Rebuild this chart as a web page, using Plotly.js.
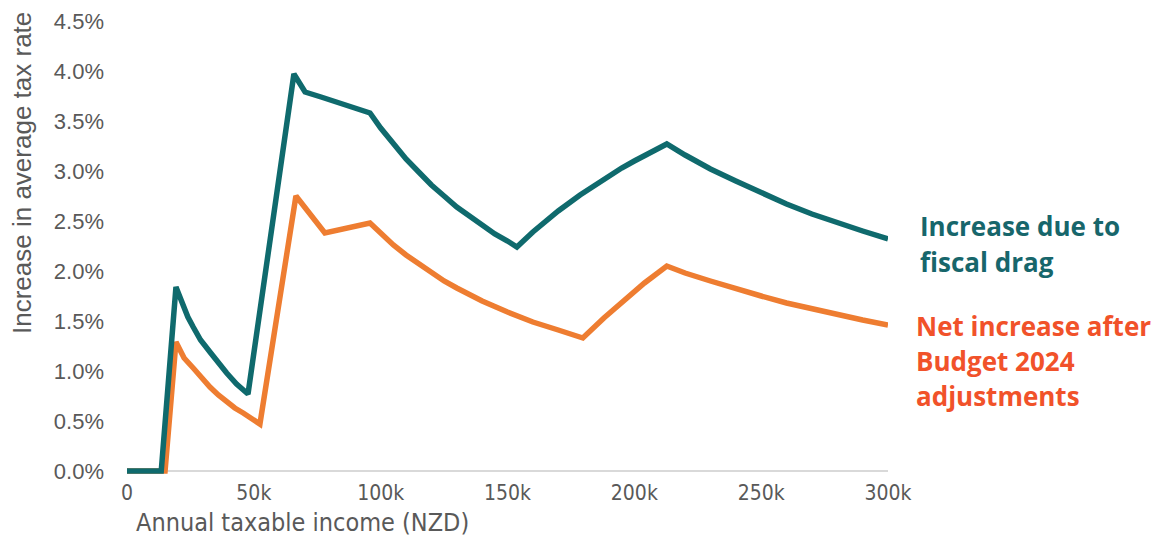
<!DOCTYPE html>
<html>
<head>
<meta charset="utf-8">
<script src="https://cdn.plot.ly/plotly-3.0.1.min.js"></script>
<style>html,body{margin:0;padding:0;background:#fff;}#chart{width:1163px;height:537px;}</style>
</head>
<body>
<div id="chart"></div>
<script>
// Annual taxable income (NZD) and increase in average tax rate (fraction)
const dragIncome = [0, 13500, 19300, 20500, 22000, 24000, 26100, 29000, 32700, 36000, 39300, 43200, 47700,
  65800, 70200, 76500, 83000, 89500, 95800, 100000, 105000, 110000, 115000, 120000, 125000, 130000, 135000, 140000, 145000, 150000, 153700,
  160000, 165000, 170000, 178600, 185000, 190000, 195000, 200000, 206000, 212800,
  220000, 230000, 240000, 250000, 260000, 270000, 280000, 290000, 300000];
const dragRate = [0, 0, 0.0184, 0.0176, 0.0166, 0.0154, 0.0144, 0.0131, 0.0119, 0.0108, 0.0098, 0.0087, 0.0077,
  0.0397, 0.0379, 0.0374, 0.0369, 0.0364, 0.0358, 0.0343, 0.0327, 0.0312, 0.0299, 0.0286, 0.0275, 0.0264, 0.0255, 0.0246, 0.0237, 0.0230, 0.0224,
  0.0239, 0.0250, 0.0260, 0.0276, 0.0287, 0.0295, 0.0303, 0.0310, 0.0318, 0.0327,
  0.0316, 0.0302, 0.0290, 0.0278, 0.0267, 0.0257, 0.0248, 0.0240, 0.0232];

const netIncome = [0, 15000, 19300, 20500, 22500, 26100, 29000, 32700, 36000, 39300, 42500, 45800, 49000, 52400,
  66600, 78000, 95800, 100000, 105000, 110000, 115000, 120000, 125000, 130000, 140000, 150000, 160000, 170000, 179700,
  188000, 196000, 204000, 212800,
  220000, 230000, 240000, 250000, 260000, 270000, 280000, 290000, 300000];
const netRate = [0, 0, 0.0129, 0.0122, 0.0113, 0.0103, 0.0094, 0.0084, 0.0076, 0.0069, 0.0063, 0.0058, 0.0052, 0.0047,
  0.0275, 0.0238, 0.0248, 0.0238, 0.0226, 0.0216, 0.0207, 0.0198, 0.0190, 0.0183, 0.0170, 0.0159, 0.0149, 0.0141, 0.0133,
  0.0153, 0.0171, 0.0188, 0.0205,
  0.0198, 0.0190, 0.0182, 0.0175, 0.0168, 0.0162, 0.0156, 0.0151, 0.0146];

const xTickVals = [0, 50000, 100000, 150000, 200000, 250000, 300000];
const xTickText = ['0', '50k', '100k', '150k', '200k', '250k', '300k'];
const yTickVals = [0, 0.005, 0.01, 0.015, 0.02, 0.025, 0.03, 0.035, 0.04, 0.045];

const seriesDrag = 'Increase due to fiscal drag';
const seriesNet = 'Net increase after Budget 2024 adjustments';
const xTitle = 'Annual taxable income (NZD)';
const yTitle = 'Increase in average tax rate';

const TEAL = '#0f6a6d';
const ORANGE = '#ee7d31';
const TEAL_TXT = '#17666b';
const ORANGE_TXT = '#f1522a';
const GREY = '#595959';
const narrow = '"Liberation Sans Narrow", "DejaVu Sans Condensed", "Arial Narrow", sans-serif';
const sans = '"Liberation Sans", Arial, sans-serif';
const bold = '"Open Sans", "Noto Sans", sans-serif';

const traces = [
  {x: netIncome, y: netRate, name: seriesNet, type: 'scatter', mode: 'lines',
   line: {color: ORANGE, width: 5.5, shape: 'linear'}, hoverinfo: 'x+y'},
  {x: dragIncome, y: dragRate, name: seriesDrag, type: 'scatter', mode: 'lines',
   line: {color: TEAL, width: 5.5, shape: 'linear'}, hoverinfo: 'x+y'}
];

function lbl(text, x, y, color) {
  return {text: text, xref: 'paper', yref: 'paper', x: x, y: y, xanchor: 'left', yanchor: 'middle',
          showarrow: false, font: {family: bold, size: 26, color: color, weight: 700}};
}
const plotH = 455;
function py(pix) { return (476 - pix) / plotH; }
function px(pix) { return (pix - 127) / 761; }

const layout = {
  width: 1163, height: 537,
  margin: {l: 127, r: 275, t: 21, b: 61, pad: 0},
  paper_bgcolor: '#ffffff', plot_bgcolor: '#ffffff',
  showlegend: false,
  xaxis: {range: [0, 300000], tickvals: xTickVals, ticktext: xTickText, showgrid: false, zeroline: false,
          showline: false, ticks: '', ticklabelstandoff: 2,
          tickfont: {family: narrow, size: 21, color: GREY}},
  yaxis: {range: [-0.0005, 0.045], tickvals: yTickVals, tickformat: '.1%', showgrid: false,
          zeroline: true, zerolinecolor: '#d9d9d9', zerolinewidth: 2, showline: false, ticks: '',
          ticklabelstandoff: 22, tickfont: {family: sans, size: 22, color: GREY}},
  annotations: [
    {text: yTitle, xref: 'paper', yref: 'paper', x: px(22), y: py(173), xanchor: 'center', yanchor: 'middle',
     textangle: -90, showarrow: false, font: {family: sans, size: 26, color: GREY}},
    {text: xTitle, xref: 'paper', yref: 'paper', x: px(134), y: py(522), xanchor: 'left', yanchor: 'middle',
     showarrow: false, font: {family: narrow, size: 25, color: GREY}},
    lbl('Increase due to', px(918), py(226), TEAL_TXT),
    lbl('fiscal drag', px(918), py(262), TEAL_TXT),
    lbl('Net increase after', px(914), py(326), ORANGE_TXT),
    lbl('Budget 2024', px(914), py(361), ORANGE_TXT),
    lbl('adjustments', px(914), py(396), ORANGE_TXT)
  ]
};

Plotly.newPlot('chart', traces, layout, {displayModeBar: false, staticPlot: true});
</script>
</body>
</html>
